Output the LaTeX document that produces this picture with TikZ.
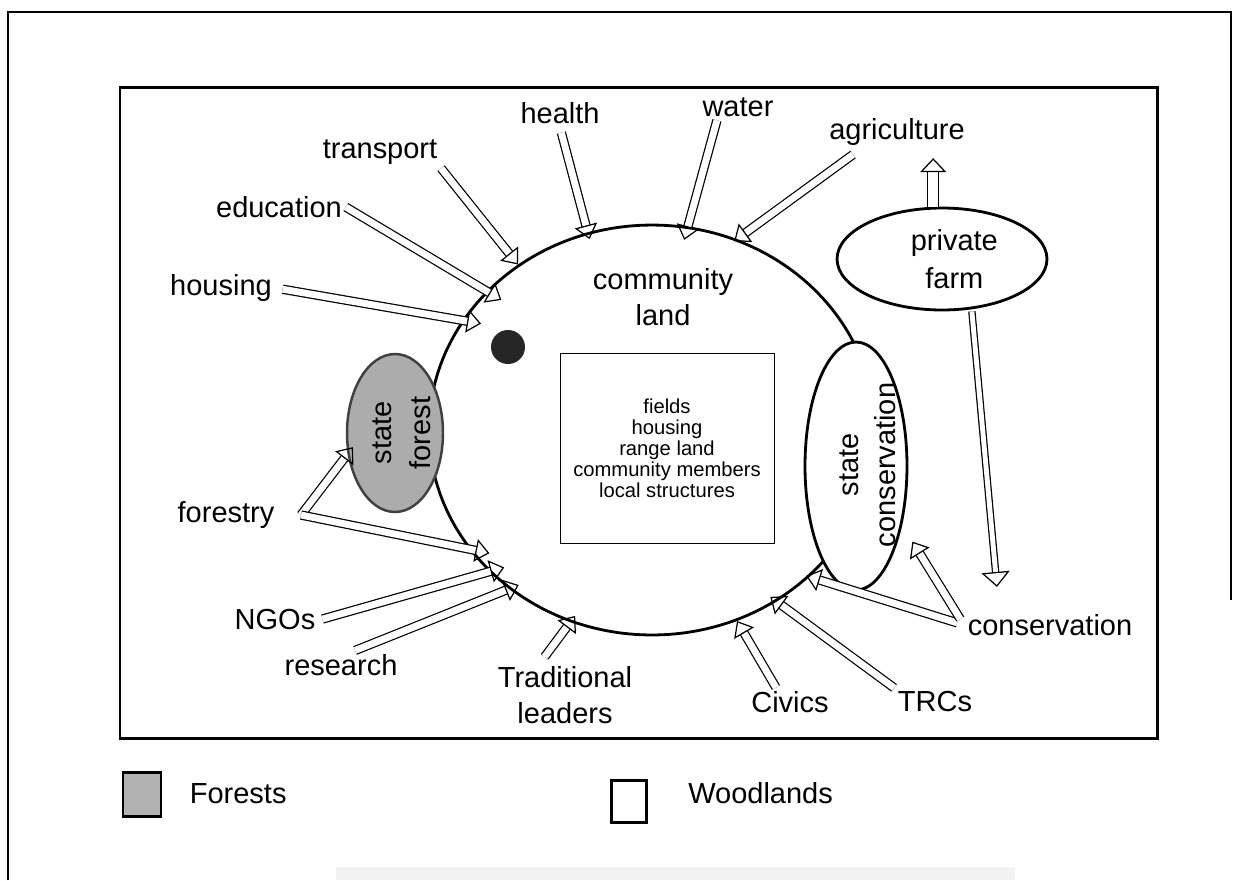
\documentclass[tikz,border=0pt]{standalone}
\usepackage{fontspec}
\setmainfont{Liberation Sans}
\usetikzlibrary{shapes.geometric, arrows.meta, positioning}
\tikzset{
hollow/.style={line width=0.7pt, double=white, double distance=3.9pt, -{Triangle[open, length=8pt, width=13pt]}}, % outlined block arrows
lab/.style={inner sep=2pt, align=center, font=\fontsize{16.5}{20.5}\selectfont},
area/.style={ellipse, draw, line width=1.6pt, inner sep=0pt},
key/.style={draw, line width=1.7pt},
}

\begin{document}
\begin{tikzpicture}[x=0.02cm, y=-0.02cm]
\useasboundingbox (0,0) rectangle (1233,880);
% page frame and figure frame
\draw[line width=0.8pt] (8,880) -- (8,12) -- (1231,12) -- (1231,600);
\fill[black!5] (336,867) rectangle (1015,880);
\draw[line width=1.7pt] (120,87) rectangle (1157,738);

% land areas
\node[area, minimum width=8.92cm, minimum height=8.2cm] (land) at (652,430) {};
\node[lab] (landtext) at (663,297) {community\\land};
\node[draw, line width=0.5pt, minimum width=4.28cm, minimum height=3.8cm, align=center,
  font=\fontsize{11.5}{12}\selectfont] (members) at (667,448)
  {fields\\housing\\range land\\community members\\local structures};
\node[circle, fill=black!85, minimum size=0.68cm, inner sep=0pt] (dot) at (508,347) {};
\node[area, draw=black!75, fill=gray!65, line width=1.4pt, minimum width=1.92cm, minimum height=3.16cm] (forest) at (395,433) {};
\node[lab, rotate=90, font=\fontsize{16.5}{22}\selectfont] (foresttext) at (402,433) {state\\forest};
\node[area, fill=white, minimum width=2.04cm, minimum height=4.96cm] (cons) at (856,466) {};
\node[lab, rotate=90, font=\fontsize{16.5}{21}\selectfont] (constext) at (868,465) {state\\conservation};
\node[area, minimum width=4.2cm, minimum height=2.04cm, font=\fontsize{16.5}{22}\selectfont, align=center] (farm) at (942,259) {\hspace*{14pt}private\\\hspace*{14pt}farm};

% sectors
\node[lab] (health) at (560,113) {health};
\node[lab] (transport) at (380,152) {transport};
\node[lab] (education) at (279,207) {education};
\node[lab] (housing) at (221,288) {housing};
\node[lab] (water) at (738,107) {water};
\node[lab] (agri) at (897,132) {agriculture};
\node[lab] (forestry) at (226,515) {forestry};
\node[lab] (ngos) at (275,620) {NGOs};
\node[lab] (research) at (341,665) {research};
\node[lab] (trad) at (565,695) {Traditional\\leaders};
\node[lab] (civics) at (790,702) {Civics};
\node[lab] (trcs) at (935,702) {TRCs};
\node[lab] (conserv) at (1050,625) {conservation};

% links
\draw[every edge/.append style={hollow}] (health.south) edge[shorten <=3pt, shorten >=-4pt] (land.108)
  (transport.south east) edge (land.129)
  (education.east) edge[shorten >=-10pt] (land.140)
  (housing.east) edge[shorten <=4pt, shorten >=-11pt] (land.150)
  ([xshift=-12pt]water.south) edge[shorten >=-8pt] (land.80)
  ([xshift=-21pt]agri.south) edge[shorten <=5pt, shorten >=-2pt] (land.66)
  ([xshift=13pt]forestry.east) edge[shorten >=-5pt] (forest.204)
  ([xshift=13pt]forestry.east) edge[shorten >=-12pt] (land.213)
  (ngos.east) edge[shorten <=2pt, shorten >=-9pt] (land.221)
  ([xshift=8pt]research.north) edge[shorten >=-6pt] (land.228)
  ([xshift=-14pt]trad.north) edge[shorten <=4pt, shorten >=-4.5pt] (land.247)
  ([xshift=-8pt]civics.north) edge (land.294)
  (trcs.north west) edge[shorten >=-4.5pt] (land.306)
  (conserv.west) edge[shorten <=4pt, shorten >=-2pt] (land.317)
  (conserv.west) edge[shorten <=4pt, shorten >=11pt] (cons.-52);
\draw[hollow, double distance=5.6pt, -{Triangle[open, length=8pt, width=15pt]}, shorten >=5pt]
  ([xshift=-5pt]farm.north) -- ([xshift=-5pt]farm.north |- agri.south);
\draw[hollow, double distance=2.8pt, -{Triangle[open, length=8.5pt, width=16pt]}, shorten >=13.5pt]
  ([xshift=17pt]farm.south) -- ([xshift=20pt]conserv.north west);

% key
\node[key, fill=gray!60, minimum width=0.76cm, minimum height=0.88cm] (forestkey) at (142,794) {};
\node[lab, right=0.47cm of forestkey] (forestname) {Forests};
\node[key, minimum width=0.7cm, minimum height=0.84cm] (woodkey) at (629,801) {};
\node[lab, right=0.73cm of woodkey, yshift=4.5pt] (woodname) {Woodlands};
\end{tikzpicture}
\end{document}
